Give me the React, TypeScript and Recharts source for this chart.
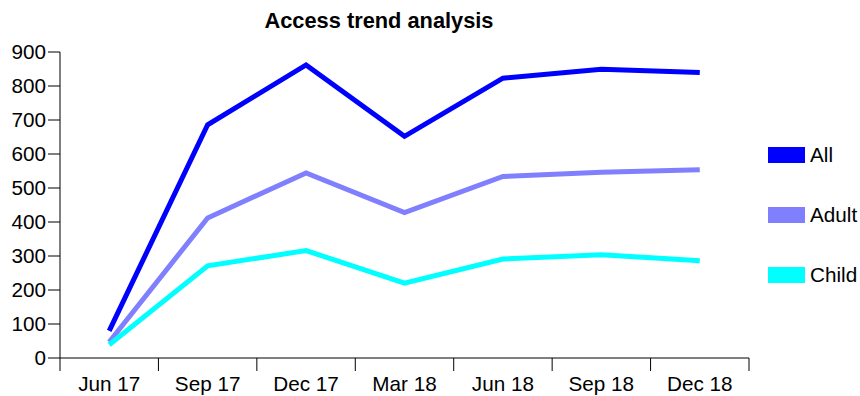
import React from "react";
import { LineChart, Line, XAxis, YAxis } from "recharts";

const categories = ["Jun 17", "Sep 17", "Dec 17", "Mar 18", "Jun 18", "Sep 18", "Dec 18"];
const allValues = [80, 686, 862, 652, 823, 849, 840];
const adultValues = [47, 412, 544, 428, 534, 546, 554];
const childValues = [39, 271, 316, 220, 291, 304, 286];
const yTicks = [0, 100, 200, 300, 400, 500, 600, 700, 800, 900];

const series = [
  { key: "all", name: "All", color: "#0000FF", values: allValues },
  { key: "adult", name: "Adult", color: "#8080FF", values: adultValues },
  { key: "child", name: "Child", color: "#00FFFF", values: childValues },
];

const data = categories.map((c, i) => {
  const row: any = { cat: c };
  series.forEach((s) => (row[s.key] = s.values[i]));
  return row;
});

const FONT = "'Liberation Sans', Arial, sans-serif";
const FS = 20.7;

const XTick = (props: any) => {
  const { x, y, payload, index, visibleTicksCount } = props;
  const half = payload && payload.offset != null ? payload.offset : 0;
  const last = index === (visibleTicksCount ?? categories.length) - 1;
  return (
    <g>
      <line x1={x - half} x2={x - half} y1={y - 18} y2={y - 5} stroke="#000" strokeWidth={1} />
      {last && <line x1={x + half} x2={x + half} y1={y - 18} y2={y - 5} stroke="#000" strokeWidth={1} />}
      <text x={x} y={y} dy="0.71em" textAnchor="middle" fontSize={FS} fill="#000" fontFamily={FONT}>
        {payload.value}
      </text>
    </g>
  );
};

export default function App() {
  return (
    <div style={{ position: "absolute", left: 0, top: 0, width: 860, height: 396, fontFamily: FONT, background: "#fff" }}>
      <div
        style={{
          position: "absolute",
          left: 379,
          top: 8,
          transform: "translateX(-50%)",
          fontSize: 21.8,
          fontWeight: "bold",
          whiteSpace: "nowrap",
          color: "#000",
        }}
      >
        Access trend analysis
      </div>
      <LineChart width={860} height={396} data={data} margin={{ top: 52, right: 111, bottom: 0, left: 0 }}>
        <XAxis
          dataKey="cat"
          scale="band"
          height={38}
          tickSize={13}
          tickMargin={5}
          tickLine={false}
          axisLine={{ stroke: "#000" }}
          interval={0}
          tick={<XTick />}
        />
        <YAxis
          width={60}
          domain={[0, 900]}
          ticks={yTicks}
          interval={0}
          tickSize={12}
          tickMargin={2}
          axisLine={{ stroke: "#000" }}
          tickLine={{ stroke: "#000" }}
          tick={{ fill: "#000", fontSize: FS, fontFamily: FONT }}
        />
        {series.map((s) => (
          <Line
            key={s.key}
            dataKey={s.key}
            name={s.name}
            stroke={s.color}
            strokeWidth={5}
            dot={false}
            activeDot={false}
            isAnimationActive={false}
          />
        ))}
      </LineChart>
      <div style={{ position: "absolute", left: 768, top: 141 }}>
        {series.map((s) => (
          <div key={s.key} style={{ display: "flex", alignItems: "center", height: 28, marginBottom: 32 }}>
            <div style={{ width: 37, height: 16, background: s.color, marginRight: 5 }} />
            <span style={{ fontSize: FS, color: "#000" }}>{s.name}</span>
          </div>
        ))}
      </div>
    </div>
  );
}
